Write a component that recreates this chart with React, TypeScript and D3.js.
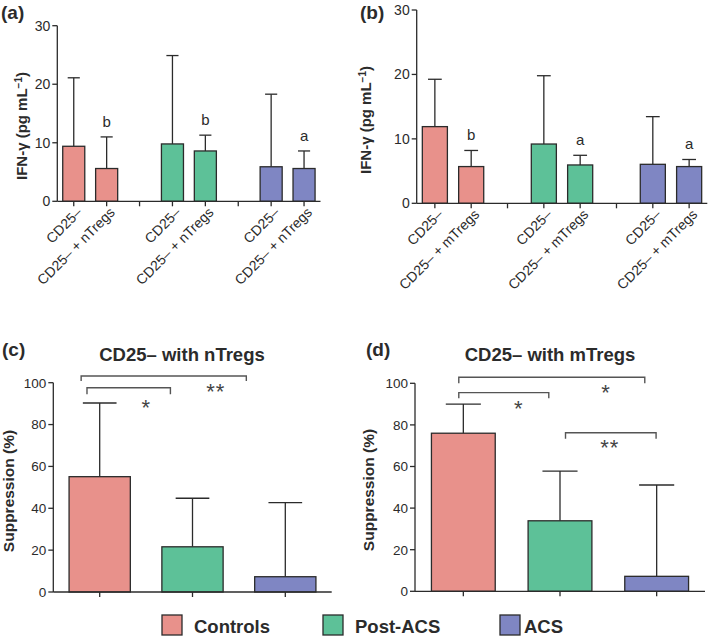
import React from "react";
import * as d3 from "d3";

// ---------- DATA ----------
const groups = ["Controls", "Post-ACS", "ACS"];
const groupColors = ["#E8918B", "#5DC198", "#7F86C3"];

// x slots for panels (a)/(b): two bars per group, with an empty slot between groups
const slotsAB = ["c0", "c1", "gap1", "p0", "p1", "gap2", "a0", "a1"];
const slotGroup = [0, 0, -1, 1, 1, -1, 2, 2];

const labelsA = ["CD25–", "CD25– + nTregs", "", "CD25–", "CD25– + nTregs", "", "CD25–", "CD25– + nTregs"];
const meansA = [9.4, 5.6, null, 9.8, 8.6, null, 5.9, 5.6];
const sdA = [11.7, 5.4, null, 15.1, 2.7, null, 12.4, 3.0];
const lettersA = ["", "b", "", "", "b", "", "", "a"];

const labelsB = ["CD25–", "CD25– + mTregs", "", "CD25–", "CD25– + mTregs", "", "CD25–", "CD25– + mTregs"];
const meansB = [11.9, 5.7, null, 9.2, 5.95, null, 6.05, 5.7];
const sdB = [7.35, 2.5, null, 10.6, 1.5, null, 7.4, 1.1];
const lettersB = ["", "b", "", "", "a", "", "", "a"];

const ticksAB = [0, 10, 20, 30];

const meansC = [55.1, 21.6, 7.3];
const sdC = [35.2, 23.2, 35.4];
const meansD = [76, 33.9, 7.2];
const sdD = [14, 23.9, 43.9];
const ticksCD = [0, 20, 40, 60, 80, 100];

// significance brackets: x in category-index units, y in data units
const bracketsC = [
  { x0: -0.2, x1: 1.58, y: 103.2, leg: 100.8, label: "**", lx: 1.25, ly: 98.4 },
  { x0: -0.137, x1: 0.762, y: 97.6, leg: 94.5, label: "*", lx: 0.503, ly: 90.9 },
];
const bracketsD = [
  { x0: -0.047, x1: 1.877, y: 102.9, leg: 100, label: "*", lx: 1.477, ly: 98.1 },
  { x0: -0.047, x1: 0.884, y: 95.5, leg: 92.8, label: "*", lx: 0.574, ly: 90.4 },
  { x0: 1.057, x1: 1.994, y: 76.25, leg: 73.4, label: "**", lx: 1.515, ly: 71.9 },
];

// ---------- STYLE ----------
const FONT = "'Liberation Sans', Arial, Helvetica, sans-serif";
const INK = "#2b2b2b";
const SW = 1.3;

type PanelABProps = {
  x0: number; x1: number; yBottom: number; yTop: number; padInner: number;
  labels: string[]; means: (number | null)[]; sds: (number | null)[]; letters: string[];
  tag: string; tagX: number; tagY: number; ylabX: number; ylabY: number;
};

function YAxis({ y, x, ticks, fs }: { y: d3.ScaleLinear<number, number>; x: number; ticks: number[]; fs: number }) {
  const [lo, hi] = y.domain();
  return (
    <g>
      <line x1={x} x2={x} y1={y(lo)} y2={y(hi)} stroke={INK} strokeWidth={SW} />
      {ticks.map((t) => (
        <g key={t}>
          <line x1={x - 5} x2={x} y1={y(t)} y2={y(t)} stroke={INK} strokeWidth={SW} />
          <text x={x - 7} y={y(t)} dy="0.36em" textAnchor="end" fontSize={fs} fill={INK} fontFamily={FONT}>
            {t}
          </text>
        </g>
      ))}
    </g>
  );
}

function Bar({ x, w, y, mean, sd, color, capFrac }: any) {
  const top = y(mean);
  const up = y(mean + sd);
  const cx = x + w / 2;
  const cw = w * capFrac;
  return (
    <g>
      <line x1={cx} x2={cx} y1={top} y2={up} stroke={INK} strokeWidth={SW} />
      <line x1={cx - cw / 2} x2={cx + cw / 2} y1={up} y2={up} stroke={INK} strokeWidth={SW} />
      <rect x={x} y={top} width={w} height={y(0) - top} fill={color} stroke={INK} strokeWidth={SW} />
    </g>
  );
}

function PanelAB(p: PanelABProps) {
  const x = d3.scaleBand<string>().domain(slotsAB).range([p.x0, p.x1]).paddingInner(p.padInner).paddingOuter(p.padInner / 2);
  const y = d3.scaleLinear().domain([0, 30]).range([p.yBottom, p.yTop]);
  const bw = x.bandwidth();
  return (
    <g>
      <text x={p.tagX} y={p.tagY} fontSize={19} fontWeight="bold" fill={INK} fontFamily={FONT}>{p.tag}</text>
      <text transform={`translate(${p.ylabX},${p.ylabY}) rotate(-90)`} textAnchor="middle" dy="0.35em"
        fontSize={15} fontWeight="bold" fill={INK} fontFamily={FONT}>
        IFN-γ (pg mL<tspan dy="-5" fontSize={10}>−1</tspan><tspan dy="5">)</tspan>
      </text>
      {slotsAB.map((s, i) => {
        const m = p.means[i];
        const sd = p.sds[i];
        if (m == null || sd == null) return null;
        const xs = x(s)!;
        return (
          <g key={s}>
            <Bar x={xs} w={bw} y={y} mean={m} sd={sd} color={groupColors[slotGroup[i]]} capFrac={0.55} />
            {p.letters[i] && (
              <text x={xs + bw / 2} y={y(m + sd) - 10} textAnchor="middle" fontSize={15} fill={INK} fontFamily={FONT}>
                {p.letters[i]}
              </text>
            )}
          </g>
        );
      })}
      <YAxis y={y} x={p.x0} ticks={ticksAB} fs={14} />
      <line x1={p.x0} x2={p.x1} y1={y(0)} y2={y(0)} stroke={INK} strokeWidth={SW} />
      {slotsAB.map((s, i) => {
        const cx = x(s)! + bw / 2;
        return (
          <g key={"t" + s}>
            <line x1={cx} x2={cx} y1={y(0)} y2={y(0) + 5} stroke={INK} strokeWidth={SW} />
            {p.labels[i] && (
              <text transform={`translate(${cx + 9},${y(0) + 12}) rotate(-45)`} textAnchor="end"
                fontSize={14} fill={INK} fontFamily={FONT}>
                {p.labels[i]}
              </text>
            )}
          </g>
        );
      })}
    </g>
  );
}

type PanelCDProps = {
  x0: number; x1: number; yBottom: number; yTop: number; padInner: number;
  means: number[]; sds: number[]; brackets: typeof bracketsC;
  tag: string; tagX: number; tagY: number; title: string; titleX: number; titleY: number;
  ylabX: number; ylabY: number;
};

function PanelCD(p: PanelCDProps) {
  const x = d3.scaleBand<string>().domain(groups).range([p.x0, p.x1]).paddingInner(p.padInner).paddingOuter(p.padInner / 2);
  const y = d3.scaleLinear().domain([0, 100]).range([p.yBottom, p.yTop]);
  const bw = x.bandwidth();
  const cx = (i: number) => x(groups[0])! + bw / 2 + i * x.step();
  return (
    <g>
      <text x={p.tagX} y={p.tagY} fontSize={19} fontWeight="bold" fill={INK} fontFamily={FONT}>{p.tag}</text>
      <text x={p.titleX} y={p.titleY} textAnchor="middle" fontSize={18.5} fontWeight="bold" fill={INK} fontFamily={FONT}>{p.title}</text>
      <text transform={`translate(${p.ylabX},${p.ylabY}) rotate(-90)`} textAnchor="middle" dy="0.35em"
        fontSize={15.5} fontWeight="bold" fill={INK} fontFamily={FONT}>
        Suppression (%)
      </text>
      {groups.map((g, i) => (
        <Bar key={g} x={x(g)!} w={bw} y={y} mean={p.means[i]} sd={p.sds[i]} color={groupColors[i]} capFrac={0.55} />
      ))}
      <YAxis y={y} x={p.x0} ticks={ticksCD} fs={13.5} />
      <line x1={p.x0} x2={p.x1} y1={y(0)} y2={y(0)} stroke={INK} strokeWidth={SW} />
      {groups.map((g, i) => (
        <line key={"t" + g} x1={cx(i)} x2={cx(i)} y1={y(0)} y2={y(0) + 5} stroke={INK} strokeWidth={SW} />
      ))}
      {p.brackets.map((b, i) => (
        <g key={"b" + i}>
          <path d={`M${cx(b.x0)},${y(b.leg)}V${y(b.y)}H${cx(b.x1)}V${y(b.leg)}`} fill="none" stroke="#555" strokeWidth={1.4} />
          <text x={cx(b.lx)} y={y(b.ly)} dy="0.6em" textAnchor="middle" fontSize={22} fill="#444" fontFamily={FONT} letterSpacing={1}>
            {b.label}
          </text>
        </g>
      ))}
    </g>
  );
}

export default function App() {
  const legendX = [162, 323, 500];
  return (
    <svg width={709} height={642} style={{ position: "absolute", left: 0, top: 0, background: "#fff" }}>
      <rect width={709} height={642} fill="#fff" />
      <PanelAB x0={57.3} x1={320.5} yBottom={201.3} yTop={25.7} padInner={0.33}
        labels={labelsA} means={meansA} sds={sdA} letters={lettersA}
        tag="(a)" tagX={1} tagY={19} ylabX={22} ylabY={126} />
      <PanelAB x0={416.7} x1={707.3} yBottom={203.3} yTop={10} padInner={0.31}
        labels={labelsB} means={meansB} sds={sdB} letters={lettersB}
        tag="(b)" tagX={360} tagY={19} ylabX={366} ylabY={120} />
      <PanelCD x0={53.3} x1={331.7} yBottom={592} yTop={382.7} padInner={0.34}
        means={meansC} sds={sdC} brackets={bracketsC}
        tag="(c)" tagX={2} tagY={356} title="CD25– with nTregs" titleX={182} titleY={361}
        ylabX={9} ylabY={491} />
      <PanelCD x0={415} x1={705} yBottom={591.3} yTop={383.3} padInner={0.34}
        means={meansD} sds={sdD} brackets={bracketsD}
        tag="(d)" tagX={366} tagY={356} title="CD25– with mTregs" titleX={550} titleY={361}
        ylabX={368.5} ylabY={490} />
      {groups.map((g, i) => (
        <g key={"lg" + g}>
          <rect x={legendX[i]} y={615} width={20} height={20} fill={groupColors[i]} stroke={INK} strokeWidth={SW} />
          <text x={legendX[i] + (i === 2 ? 24 : 32)} y={633} fontSize={18.5} fontWeight="bold" fill={INK} fontFamily={FONT}>{g}</text>
        </g>
      ))}
    </svg>
  );
}
